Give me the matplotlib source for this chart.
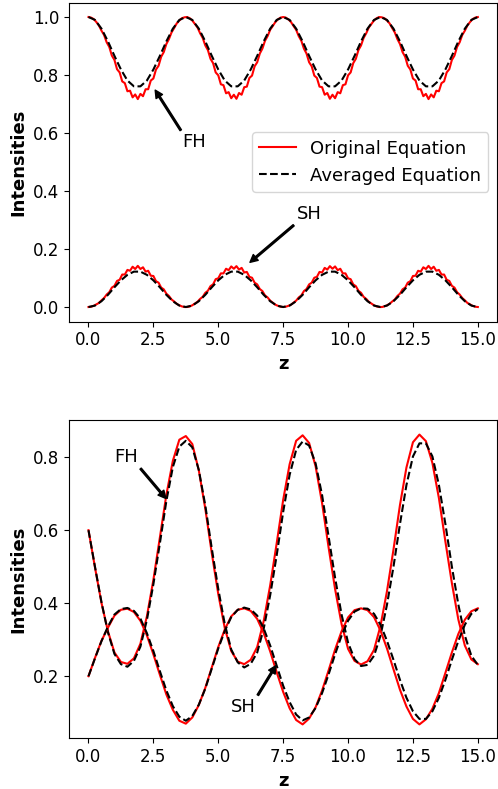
import matplotlib
matplotlib.use("Agg")
import matplotlib.pyplot as plt
import numpy as np

# ---- top panel: phase-matched case ----
z_avg_top = np.arange(0, 15.01, 0.25)
fh_avg_top = [
    1.000, 0.990, 0.960, 0.916, 0.866, 0.819, 0.781, 0.761, 0.761, 0.781, 0.819, 0.866, 0.916, 0.960, 0.990,
    1.000, 0.990, 0.960, 0.916, 0.866, 0.819, 0.781, 0.761, 0.761, 0.781, 0.819, 0.866, 0.916, 0.960, 0.990,
    1.000, 0.990, 0.960, 0.916, 0.866, 0.819, 0.781, 0.761, 0.761, 0.781, 0.819, 0.866, 0.916, 0.960, 0.990,
    1.000, 0.990, 0.960, 0.916, 0.866, 0.819, 0.781, 0.761, 0.761, 0.781, 0.819, 0.866, 0.916, 0.960, 0.990,
    1.000,
]
sh_avg_top = [
    0.000, 0.005, 0.020, 0.042, 0.068, 0.092, 0.111, 0.122, 0.122, 0.111, 0.092, 0.068, 0.042, 0.020, 0.005,
    0.000, 0.005, 0.020, 0.042, 0.068, 0.092, 0.111, 0.122, 0.122, 0.111, 0.092, 0.068, 0.042, 0.020, 0.005,
    0.000, 0.005, 0.020, 0.042, 0.068, 0.092, 0.111, 0.122, 0.122, 0.111, 0.092, 0.068, 0.042, 0.020, 0.005,
    0.000, 0.005, 0.020, 0.042, 0.068, 0.092, 0.111, 0.122, 0.122, 0.111, 0.092, 0.068, 0.042, 0.020, 0.005,
    0.000,
]

z_orig_top = np.arange(0, 15.001, 0.1)
fh_orig_top = [
    1.000, 0.998, 0.993, 0.983, 0.971, 0.953, 0.938, 0.913, 0.897, 0.867, 0.852, 0.820, 0.809, 0.778, 0.772,
    0.744, 0.746, 0.723, 0.733, 0.717, 0.735, 0.727, 0.751, 0.751, 0.781, 0.788, 0.819, 0.832, 0.863, 0.879,
    0.907, 0.924, 0.947, 0.962, 0.978, 0.988, 0.996, 0.999, 1.000, 0.996, 0.988, 0.976, 0.964, 0.944, 0.928,
    0.902, 0.886, 0.856, 0.841, 0.809, 0.799, 0.768, 0.765, 0.737, 0.741, 0.720, 0.732, 0.718, 0.738, 0.732,
    0.758, 0.760, 0.790, 0.798, 0.830, 0.844, 0.874, 0.891, 0.918, 0.934, 0.956, 0.969, 0.983, 0.992, 0.998,
    1.000, 0.998, 0.992, 0.983, 0.969, 0.956, 0.934, 0.918, 0.891, 0.874, 0.844, 0.830, 0.798, 0.790, 0.760,
    0.758, 0.732, 0.738, 0.718, 0.732, 0.720, 0.741, 0.737, 0.765, 0.768, 0.799, 0.809, 0.841, 0.856, 0.886,
    0.902, 0.928, 0.944, 0.964, 0.976, 0.988, 0.996, 1.000, 0.999, 0.996, 0.988, 0.978, 0.962, 0.947, 0.924,
    0.907, 0.879, 0.863, 0.832, 0.819, 0.788, 0.781, 0.751, 0.751, 0.727, 0.735, 0.717, 0.733, 0.723, 0.746,
    0.744, 0.772, 0.778, 0.809, 0.820, 0.852, 0.867, 0.897, 0.913, 0.938, 0.953, 0.971, 0.983, 0.993, 0.998,
    1.000,
]
sh_orig_top = [
    0.000, 0.001, 0.004, 0.009, 0.014, 0.023, 0.031, 0.043, 0.051, 0.067, 0.073, 0.090, 0.094, 0.112, 0.112,
    0.128, 0.125, 0.139, 0.131, 0.142, 0.131, 0.137, 0.122, 0.125, 0.108, 0.107, 0.089, 0.084, 0.067, 0.061,
    0.046, 0.038, 0.026, 0.019, 0.011, 0.006, 0.002, 0.000, 0.000, 0.002, 0.006, 0.012, 0.018, 0.028, 0.035,
    0.049, 0.056, 0.072, 0.078, 0.096, 0.099, 0.116, 0.116, 0.132, 0.127, 0.140, 0.132, 0.141, 0.129, 0.135,
    0.119, 0.121, 0.104, 0.101, 0.084, 0.078, 0.062, 0.055, 0.040, 0.033, 0.022, 0.015, 0.008, 0.004, 0.001,
    0.000, 0.001, 0.004, 0.008, 0.015, 0.022, 0.033, 0.040, 0.055, 0.062, 0.078, 0.084, 0.101, 0.104, 0.121,
    0.119, 0.135, 0.129, 0.141, 0.132, 0.140, 0.127, 0.132, 0.116, 0.116, 0.099, 0.096, 0.078, 0.072, 0.056,
    0.049, 0.035, 0.028, 0.018, 0.012, 0.006, 0.002, 0.000, 0.000, 0.002, 0.006, 0.011, 0.019, 0.026, 0.038,
    0.046, 0.061, 0.067, 0.084, 0.089, 0.107, 0.108, 0.125, 0.122, 0.137, 0.131, 0.142, 0.131, 0.139, 0.125,
    0.128, 0.112, 0.112, 0.094, 0.090, 0.073, 0.067, 0.051, 0.043, 0.031, 0.023, 0.014, 0.009, 0.004, 0.001,
    0.000,
]

# ---- bottom panel: seeded SH case ----
z_bot = np.arange(0, 15.01, 0.25)
fh_avg_bot = [
    0.600, 0.500, 0.403, 0.320, 0.261, 0.233, 0.226, 0.242, 0.281, 0.354, 0.452, 0.564, 0.680, 0.773, 0.829,
    0.845, 0.827, 0.765, 0.668, 0.550, 0.439, 0.343, 0.273, 0.238, 0.224, 0.234, 0.265, 0.330, 0.422, 0.531,
    0.650, 0.752, 0.820, 0.843, 0.832, 0.783, 0.696, 0.583, 0.470, 0.369, 0.292, 0.247, 0.228, 0.231, 0.256,
    0.311, 0.396, 0.500, 0.617, 0.724, 0.802, 0.838, 0.838, 0.802, 0.724, 0.617, 0.500, 0.396, 0.311, 0.256,
    0.231,
]
sh_avg_bot = [
    0.200, 0.249, 0.296, 0.336, 0.369, 0.384, 0.387, 0.379, 0.358, 0.318, 0.269, 0.214, 0.161, 0.118, 0.089,
    0.078, 0.091, 0.122, 0.166, 0.221, 0.276, 0.324, 0.362, 0.382, 0.388, 0.383, 0.366, 0.331, 0.284, 0.229,
    0.174, 0.129, 0.095, 0.079, 0.087, 0.113, 0.154, 0.205, 0.260, 0.311, 0.352, 0.377, 0.386, 0.385, 0.371,
    0.341, 0.297, 0.245, 0.190, 0.141, 0.104, 0.083, 0.083, 0.104, 0.141, 0.190, 0.245, 0.297, 0.341, 0.371,
    0.384,
]
fh_orig_bot = [
    0.600, 0.498, 0.401, 0.323, 0.265, 0.239, 0.234, 0.249, 0.289, 0.364, 0.464, 0.580, 0.697, 0.790, 0.848,
    0.858, 0.836, 0.764, 0.659, 0.537, 0.425, 0.332, 0.269, 0.240, 0.233, 0.245, 0.280, 0.351, 0.449, 0.564,
    0.683, 0.781, 0.845, 0.860, 0.839, 0.775, 0.674, 0.553, 0.439, 0.343, 0.275, 0.242, 0.232, 0.241, 0.272,
    0.338, 0.433, 0.547, 0.669, 0.772, 0.841, 0.862, 0.844, 0.784, 0.688, 0.569, 0.455, 0.355, 0.284, 0.246,
    0.233,
]
sh_orig_bot = [
    0.200, 0.250, 0.297, 0.333, 0.366, 0.382, 0.385, 0.376, 0.352, 0.312, 0.260, 0.204, 0.150, 0.108, 0.078,
    0.070, 0.087, 0.121, 0.168, 0.224, 0.280, 0.328, 0.364, 0.382, 0.386, 0.379, 0.357, 0.318, 0.268, 0.211,
    0.157, 0.112, 0.080, 0.068, 0.084, 0.115, 0.161, 0.216, 0.273, 0.323, 0.361, 0.381, 0.386, 0.381, 0.362,
    0.325, 0.276, 0.219, 0.163, 0.117, 0.083, 0.068, 0.082, 0.111, 0.154, 0.209, 0.265, 0.316, 0.355, 0.378,
    0.386,
]

x_ticks = [0.0, 2.5, 5.0, 7.5, 10.0, 12.5, 15.0]


def configure_plots() -> None:
    plt.rcParams.update({
        "font.family": "DejaVu Sans",
        "font.size": 13,
        "xtick.labelsize": 12,
        "ytick.labelsize": 12,
        "axes.labelsize": 13,
        "axes.labelweight": "bold",
        "legend.fontsize": 13,
        "lines.linewidth": 1.5,
    })


def arrow_label(ax, text, tip, where):
    ax.annotate(
        text, xy=tip, xytext=where, ha="center", va="center", fontsize=13,
        arrowprops=dict(facecolor="black", edgecolor="black", width=1.2,
                        headwidth=5.5, headlength=5.5, shrink=0.0),
    )


configure_plots()
fig = plt.figure(figsize=(4.98, 7.89), dpi=100)
ax1 = fig.add_axes([0.1386, 0.5925, 0.8600, 0.4043])
ax2 = fig.add_axes([0.1386, 0.0643, 0.8600, 0.4034])

ax1.plot(z_orig_top, fh_orig_top, color="red", label="Original Equation")
ax1.plot(z_avg_top, fh_avg_top, color="black", linestyle="--", label="Averaged Equation")
ax1.plot(z_orig_top, sh_orig_top, color="red")
ax1.plot(z_avg_top, sh_avg_top, color="black", linestyle="--")
ax1.set_xticks(x_ticks)
ax1.set_ylim(-0.05, 1.05)
ax1.set_xlabel("z")
ax1.set_ylabel("Intensities")
ax1.legend(loc="center right")
arrow_label(ax1, "FH", (2.57, 0.748), (4.08, 0.569))
arrow_label(ax1, "SH", (6.22, 0.154), (8.49, 0.321))

ax2.plot(z_bot, fh_orig_bot, color="red")
ax2.plot(z_bot, fh_avg_bot, color="black", linestyle="--")
ax2.plot(z_bot, sh_orig_bot, color="red")
ax2.plot(z_bot, sh_avg_bot, color="black", linestyle="--")
ax2.set_xticks(x_ticks)
ax2.set_yticks([0.2, 0.4, 0.6, 0.8])
ax2.set_ylim(0.030, 0.902)
ax2.set_xlabel("z")
ax2.set_ylabel("Intensities")
arrow_label(ax2, "FH", (2.98, 0.687), (1.46, 0.801))
arrow_label(ax2, "SH", (7.22, 0.229), (5.98, 0.116))

fig.savefig("out.png", dpi=100)
plt.close(fig)
